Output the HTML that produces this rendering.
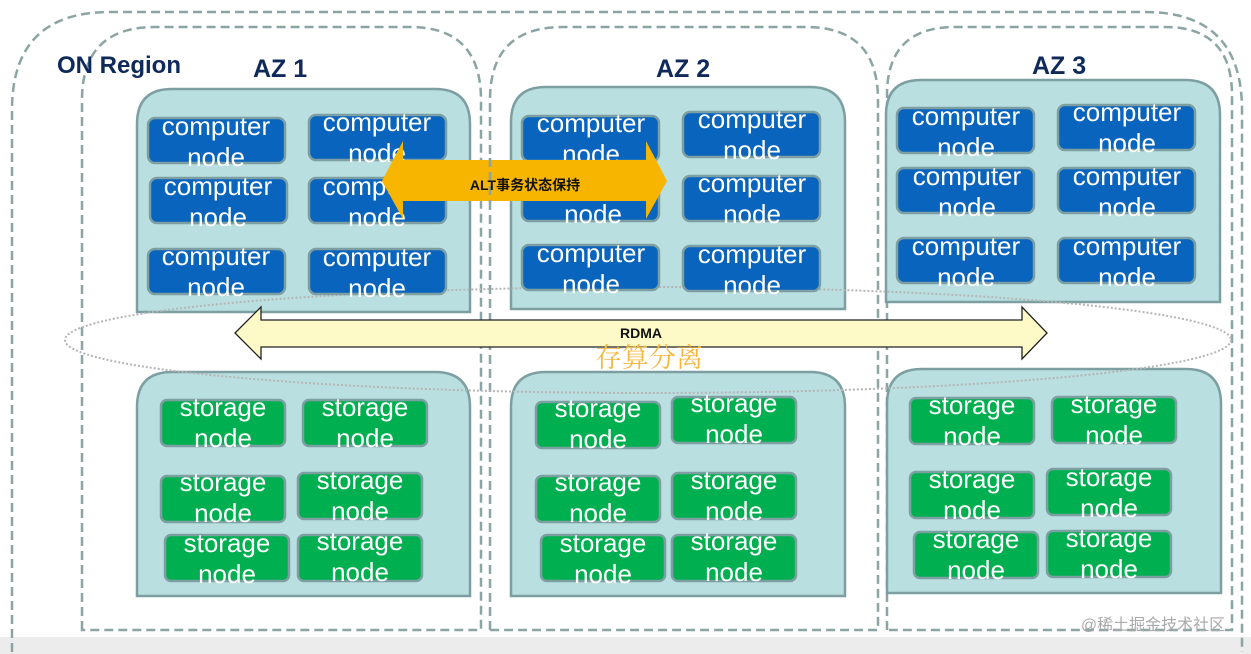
<!DOCTYPE html>
<html><head><meta charset="utf-8"><style>
html,body{margin:0;padding:0;background:#fff;width:1251px;height:654px;overflow:hidden}
svg{display:block}
.c{font-family:"Liberation Sans",sans-serif;font-size:26px;fill:#fff}
.s{font-family:"Liberation Sans",sans-serif;font-size:26px;fill:#fff}
</style></head><body>
<svg width="1251" height="654" viewBox="0 0 1251 654" xmlns="http://www.w3.org/2000/svg">
<rect x="0" y="637" width="1251" height="17" fill="#ececec"/>
<path d="M12,652 V110 Q12,12 110,12 H1145 Q1242,12 1242,110 V652" fill="none" stroke="#8aa5a3" stroke-width="2.5" stroke-dasharray="9,5"/>
<path d="M82,630 V100 Q82,27 155,27 H410 Q481,27 481,100 V630 Z" fill="none" stroke="#8aa5a3" stroke-width="2.5" stroke-dasharray="9,5"/>
<path d="M490,630 V100 Q490,27 563,27 H806 Q878,27 878,100 V630 Z" fill="none" stroke="#8aa5a3" stroke-width="2.5" stroke-dasharray="9,5"/>
<path d="M887,630 V95 Q887,27 955,27 H1165 Q1232,27 1232,95 V630 Z" fill="none" stroke="#8aa5a3" stroke-width="2.5" stroke-dasharray="9,5"/>
<text x="57" y="73" font-family="Liberation Sans,sans-serif" font-weight="bold" font-size="24" fill="#0f2a5a">ON Region</text>
<text x="253" y="77" font-family="Liberation Sans,sans-serif" font-weight="bold" font-size="25" fill="#0f2a5a">AZ 1</text>
<text x="656" y="77" font-family="Liberation Sans,sans-serif" font-weight="bold" font-size="25" fill="#0f2a5a">AZ 2</text>
<text x="1032" y="74" font-family="Liberation Sans,sans-serif" font-weight="bold" font-size="25" fill="#0f2a5a">AZ 3</text>
<g fill="#b9dfe1" stroke="#7d9fa2" stroke-width="2.5">
<path d="M137,312 V124 Q137,89 172,89 H435 Q470,89 470,124 V312 Z"/>
<path d="M511,309 V122 Q511,87 546,87 H810 Q845,87 845,122 V309 Z"/>
<path d="M886,302 V115 Q886,80 921,80 H1185 Q1220,80 1220,115 V302 Z"/>
<path d="M137,596 V407 Q137,372 172,372 H435 Q470,372 470,407 V596 Z"/>
<path d="M511,596 V407 Q511,372 546,372 H810 Q845,372 845,407 V596 Z"/>
<path d="M887,593 V404 Q887,369 922,369 H1186 Q1221,369 1221,404 V593 Z"/>
</g>
<ellipse cx="648" cy="340" rx="583" ry="53" fill="none" stroke="#b5b5b5" stroke-width="2" stroke-dasharray="2,2"/>
<g fill="#0864bd" stroke="#7d9fa2" stroke-width="2.5">
<rect x="148" y="118" width="137" height="45" rx="7"/><rect x="309" y="115" width="137" height="45" rx="7"/>
<rect x="150" y="178" width="137" height="45" rx="7"/><rect x="309" y="178" width="137" height="45" rx="7"/>
<rect x="148" y="249" width="137" height="45" rx="7"/><rect x="309" y="249" width="137" height="45" rx="7"/>
<rect x="522" y="116" width="137" height="45" rx="7"/><rect x="683" y="112" width="137" height="45" rx="7"/>
<rect x="522" y="176" width="137" height="45" rx="7"/><rect x="683" y="176" width="137" height="45" rx="7"/>
<rect x="522" y="245" width="137" height="45" rx="7"/><rect x="683" y="246" width="137" height="45" rx="7"/>
<rect x="897" y="108" width="137" height="45" rx="7"/><rect x="1058" y="105" width="137" height="45" rx="7"/>
<rect x="897" y="168" width="137" height="45" rx="7"/><rect x="1058" y="168" width="137" height="45" rx="7"/>
<rect x="897" y="238" width="137" height="45" rx="7"/><rect x="1058" y="238" width="137" height="45" rx="7"/>
</g>
<g class="c" text-anchor="middle">
<text x="216" y="135">computer</text><text x="216" y="166">node</text>
<text x="377" y="131">computer</text><text x="377" y="162">node</text>
<text x="218" y="195">computer</text><text x="218" y="226">node</text>
<text x="377" y="195">computer</text><text x="377" y="226">node</text>
<text x="216" y="265">computer</text><text x="216" y="296">node</text>
<text x="377" y="266">computer</text><text x="377" y="297">node</text>
<text x="591" y="132">computer</text><text x="591" y="163">node</text>
<text x="752" y="128">computer</text><text x="752" y="159">node</text>
<text x="591" y="192">computer</text><text x="593" y="223">node</text>
<text x="752" y="192">computer</text><text x="752" y="223">node</text>
<text x="591" y="262">computer</text><text x="591" y="293">node</text>
<text x="752" y="263">computer</text><text x="752" y="294">node</text>
<text x="966" y="125">computer</text><text x="966" y="156">node</text>
<text x="1127" y="121">computer</text><text x="1127" y="152">node</text>
<text x="967" y="185">computer</text><text x="967" y="216">node</text>
<text x="1127" y="185">computer</text><text x="1127" y="216">node</text>
<text x="966" y="255">computer</text><text x="966" y="286">node</text>
<text x="1127" y="255">computer</text><text x="1127" y="286">node</text>
</g>
<g fill="#00b050" stroke="#7d9fa2" stroke-width="2.5">
<rect x="161" y="400" width="124" height="46" rx="6"/><rect x="303" y="400" width="124" height="46" rx="6"/>
<rect x="161" y="476" width="124" height="46" rx="6"/><rect x="298" y="473" width="124" height="46" rx="6"/>
<rect x="165" y="535" width="124" height="46" rx="6"/><rect x="298" y="535" width="124" height="46" rx="6"/>
<rect x="536" y="402" width="124" height="46" rx="6"/><rect x="672" y="397" width="124" height="46" rx="6"/>
<rect x="536" y="476" width="124" height="46" rx="6"/><rect x="672" y="473" width="124" height="46" rx="6"/>
<rect x="541" y="535" width="124" height="46" rx="6"/><rect x="672" y="535" width="124" height="46" rx="6"/>
<rect x="910" y="398" width="124" height="46" rx="6"/><rect x="1052" y="397" width="124" height="46" rx="6"/>
<rect x="910" y="472" width="124" height="46" rx="6"/><rect x="1047" y="469" width="124" height="46" rx="6"/>
<rect x="914" y="532" width="124" height="46" rx="6"/><rect x="1047" y="531" width="124" height="46" rx="6"/>
</g>
<g class="s" text-anchor="middle">
<text x="223" y="416">storage</text><text x="223" y="447">node</text>
<text x="365" y="416">storage</text><text x="365" y="447">node</text>
<text x="223" y="491">storage</text><text x="223" y="522">node</text>
<text x="360" y="489">storage</text><text x="360" y="520">node</text>
<text x="227" y="552">storage</text><text x="227" y="583">node</text>
<text x="360" y="550">storage</text><text x="360" y="581">node</text>
<text x="598" y="417">storage</text><text x="598" y="448">node</text>
<text x="734" y="412">storage</text><text x="734" y="443">node</text>
<text x="598" y="491">storage</text><text x="598" y="522">node</text>
<text x="734" y="489">storage</text><text x="734" y="520">node</text>
<text x="603" y="552">storage</text><text x="603" y="583">node</text>
<text x="734" y="550">storage</text><text x="734" y="581">node</text>
<text x="972" y="414">storage</text><text x="972" y="445">node</text>
<text x="1114" y="413">storage</text><text x="1114" y="444">node</text>
<text x="972" y="488">storage</text><text x="972" y="519">node</text>
<text x="1109" y="486">storage</text><text x="1109" y="517">node</text>
<text x="976" y="548">storage</text><text x="976" y="579">node</text>
<text x="1109" y="547">storage</text><text x="1109" y="578">node</text>
</g>
<path d="M235,333 L261,307 V320 H1022 V307 L1047,333 L1022,359 V347 H261 V359 Z" fill="#fdfac8" stroke="#222" stroke-width="1.3"/>
<text x="641" y="338" text-anchor="middle" font-family="Liberation Sans,sans-serif" font-weight="bold" font-size="14" fill="#111">RDMA</text>
<text x="649" y="367" text-anchor="middle" font-family="Noto Serif CJK SC,serif" font-size="27" fill="#f6b73c">存算分离</text>
<path d="M382,181 L403,141 V160 H646 V141 L667,181 L646,219 V201 H403 V219 Z" fill="#f8b500"/>
<line x1="490" y1="158" x2="490" y2="203" stroke="#8aa5a3" stroke-width="2.5" stroke-dasharray="9,5"/>
<text x="525" y="190" text-anchor="middle" font-family="Liberation Sans,Noto Sans CJK SC,sans-serif" font-weight="bold" font-size="14" fill="#111">ALT事务状态保持</text>
<text x="1153" y="630" text-anchor="middle" font-family="Liberation Sans,Noto Sans CJK SC,sans-serif" font-size="16" fill="#aaa">@稀土掘金技术社区</text>
</svg>
</body></html>
